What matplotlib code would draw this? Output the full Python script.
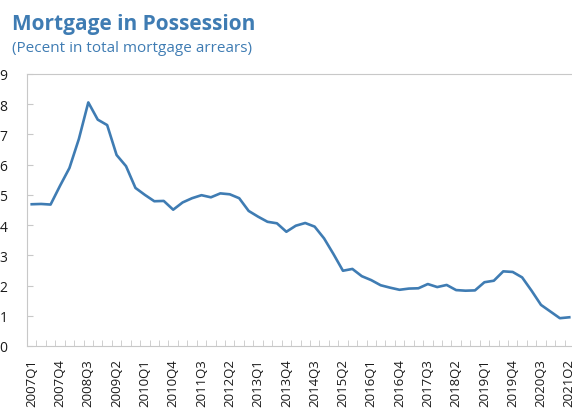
import numpy as np
import matplotlib.pyplot as plt
from matplotlib.ticker import FixedLocator

# quarterly share of mortgages in possession, 2007Q1 - 2021Q2
years = np.repeat(np.arange(2007, 2022), 4)[:58]
qtrs = np.tile([1, 2, 3, 4], 15)[:58]
quarters = [f"{y}Q{q}" for y, q in zip(years, qtrs)]

possession = [
    4.69, 4.70, 4.68, 5.30, 5.89, 6.85, 8.06, 7.49, 7.31, 6.32,
    5.95, 5.23, 5.00, 4.79, 4.80, 4.51, 4.75, 4.89, 4.99, 4.92,
    5.05, 5.02, 4.89, 4.47, 4.28, 4.11, 4.06, 3.78, 3.98, 4.07,
    3.95, 3.56, 3.04, 2.49, 2.55, 2.31, 2.18, 2.01, 1.93, 1.86,
    1.90, 1.91, 2.05, 1.95, 2.02, 1.85, 1.83, 1.84, 2.11, 2.16,
    2.47, 2.45, 2.27, 1.83, 1.36, 1.14, 0.92, 0.95,
]

blue = '#3f7cb3'
grey = '#c8c8c8'

plt.rcParams['font.family'] = ['Open Sans', 'DejaVu Sans']

fig = plt.figure(figsize=(5.72, 4.14), dpi=100)
ax = fig.add_axes([27 / 572, 1 - 347 / 414, 547 / 572, 272 / 414])

x = np.arange(len(possession))
ax.plot(x, possession, color=blue, linewidth=1.9, solid_joinstyle='round')

ax.set_xlim(-0.5, len(possession) - 0.5)
ax.set_ylim(0, 9)
ax.set_yticks(range(0, 10))

ax.set_xticks(x[::3])
ax.set_xticklabels(quarters[::3], rotation=90, fontsize=9.5, color='#1a1a1a')
ax.xaxis.set_minor_locator(FixedLocator(np.arange(0.5, len(possession) - 1, 1)))
ax.tick_params(axis='x', which='major', length=0, pad=9)
ax.tick_params(axis='x', which='minor', direction='in', length=4, color=grey)
ax.tick_params(axis='y', direction='in', length=4, color=grey, pad=14,
               labelsize=10, labelcolor='#1a1a1a')

for side in ['left', 'bottom', 'top']:
    ax.spines[side].set_color(grey)
ax.spines['right'].set_visible(False)

fig.text(12 / 572, 1 - 30 / 414, 'Mortgage in Possession', color=blue,
         fontsize=15, fontweight='bold', va='baseline')
fig.text(12 / 572, 1 - 52 / 414, '(Pecent in total mortgage arrears)',
         color=blue, fontsize=11, va='baseline')

fig.savefig('out.png', dpi=100)
